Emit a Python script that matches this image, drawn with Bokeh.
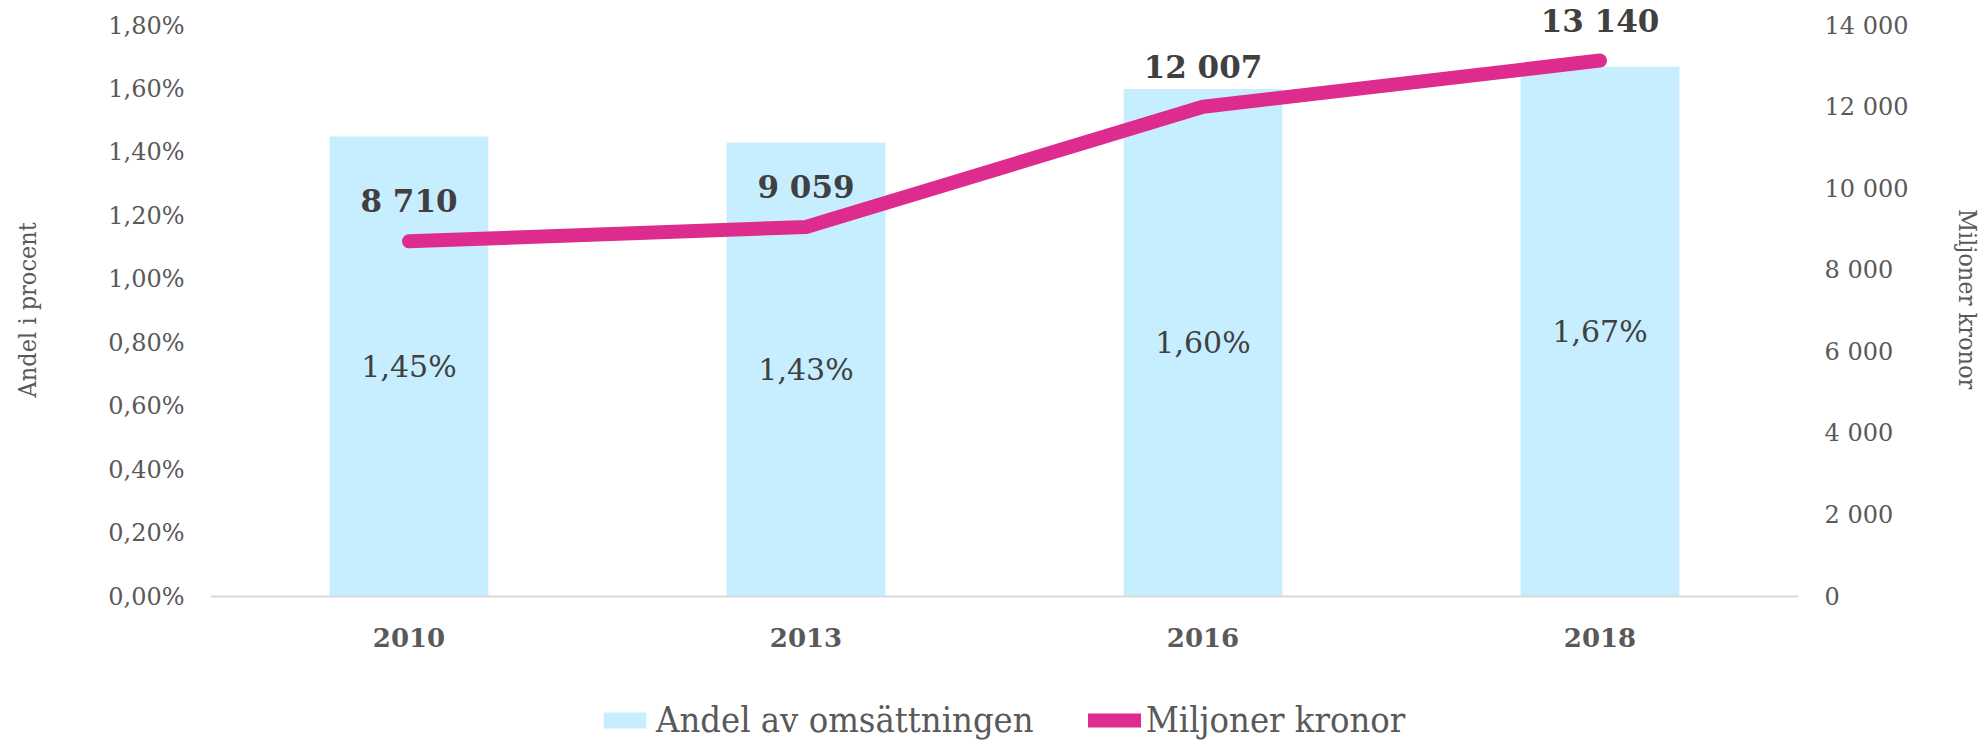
from bokeh.plotting import figure
from bokeh.models import (ColumnDataSource, Range1d, LinearAxis, FactorRange, Span,
                          CustomJSTickFormatter, Legend, LegendItem, FixedTicker)
from bokeh.core.properties import value
from bokeh.embed import file_html
from bokeh.resources import INLINE

years = ["2010", "2013", "2016", "2018"]
share = [1.45, 1.43, 1.60, 1.67]          # Andel av omsättningen (%)
mkr = [8710, 9059, 12007, 13140]          # Miljoner kronor
left_ticks = [0, 0.2, 0.4, 0.6, 0.8, 1.0, 1.2, 1.4, 1.6, 1.8]
right_ticks = [0, 2000, 4000, 6000, 8000, 10000, 12000, 14000]

share_lbl = [f"{v:.2f}".replace(".", ",") + "%" for v in share]
mkr_lbl = [f"{v:,}".replace(",", " ") for v in mkr]

src = ColumnDataSource(dict(year=years, share=share, half=[v / 2 for v in share],
                            zero=[0] * len(years), share_lbl=share_lbl,
                            mkr=mkr, mkr_lbl=mkr_lbl))

SERIF = "DejaVu Serif"
COND = "DejaVu Serif Condensed"
BAR = "#C7EEFE"
PINK = "#DE2C8E"
GREY = "#595959"
DARK = "#404040"
NB = "\u00a0"

# the plotting frame covers the whole height; value axes map 0..max onto y = 596 .. 25
FH = 740
TOP_PX, ZERO_PX = 25, 596
span_px = ZERO_PX - TOP_PX
L_MAX, R_MAX = 1.8, 14000
l_lo = -(FH - ZERO_PX) * L_MAX / span_px
l_hi = L_MAX + TOP_PX * L_MAX / span_px
r_lo = -(FH - ZERO_PX) * R_MAX / span_px
r_hi = R_MAX + TOP_PX * R_MAX / span_px

p = figure(x_range=FactorRange(*years), y_range=Range1d(l_lo, l_hi),
           frame_width=1588, frame_height=FH,
           min_border_left=210, min_border_right=170, min_border_top=0,
           min_border_bottom=0, output_backend="svg", toolbar_location=None,
           outline_line_color=None)
p.extra_y_ranges = {"mkr": Range1d(r_lo, r_hi)}
p.xaxis.visible = False
p.xgrid.grid_line_color = None
p.ygrid.grid_line_color = None

p.add_layout(Span(location=0, dimension="width", line_color="#D9D9D9", line_width=2))

bars = p.vbar(x="year", top="share", bottom=0, width=0.4, source=src,
              fill_color=BAR, line_color=None)
line = p.line(x="year", y="mkr", source=src, y_range_name="mkr", line_color=PINK,
              line_width=14, line_cap="round", line_join="round")

# category labels under the baseline
p.text(x="year", y="zero", text="year", source=src, text_align="center",
       text_baseline="middle", y_offset=41, text_font=value(SERIF),
       text_font_size="26px", text_font_style="bold", text_color=GREY)
# bar value labels
p.text(x="year", y="half", text="share_lbl", source=src, text_align="center",
       text_baseline="middle", text_font=value(SERIF), text_font_size="30px",
       text_color=DARK)
# line value labels
p.text(x="year", y="mkr", text="mkr_lbl", source=src, y_range_name="mkr",
       text_align="center", text_baseline="middle", y_offset=-40,
       text_font=value(SERIF), text_font_size="31px", text_font_style="bold",
       text_color=DARK)

# left axis
ya = p.yaxis[0]
ya.ticker = FixedTicker(ticks=left_ticks)
ya.formatter = CustomJSTickFormatter(code="return tick.toFixed(2).replace('.', ',') + '%';")
ya.axis_line_color = None
ya.major_tick_line_color = None
ya.minor_tick_line_color = None
ya.major_label_standoff = 20
ya.major_label_text_font = SERIF
ya.major_label_text_font_size = "24px"
ya.major_label_text_color = GREY
ya.axis_label = NB * 17 + "Andel i procent"
ya.axis_label_text_font = COND
ya.axis_label_text_font_style = "normal"
ya.axis_label_text_font_size = "25px"
ya.axis_label_text_color = GREY
ya.axis_label_standoff = 63

# right axis
ra = LinearAxis(y_range_name="mkr", ticker=FixedTicker(ticks=right_ticks),
                formatter=CustomJSTickFormatter(code="return tick.toLocaleString('en-US').replace(/,/g, ' ');"))
ra.axis_line_color = None
ra.major_tick_line_color = None
ra.minor_tick_line_color = None
ra.major_label_standoff = 20
ra.major_label_text_font = SERIF
ra.major_label_text_font_size = "24px"
ra.major_label_text_color = GREY
ra.axis_label = "Miljoner kronor" + NB * 20
ra.axis_label_text_font = COND
ra.axis_label_text_font_style = "normal"
ra.axis_label_text_font_size = "25px"
ra.axis_label_text_color = GREY
ra.axis_label_standoff = 42
p.add_layout(ra, "right")

legend = Legend(items=[LegendItem(label="Andel av omsättningen", renderers=[bars]),
                       LegendItem(label="Miljoner kronor", renderers=[line])],
                orientation="horizontal", location=(388, 0),
                label_text_font=COND, label_text_font_size="36px",
                label_text_color=GREY, glyph_width=53, glyph_height=20,
                label_standoff=5, spacing=54, padding=0, margin=0,
                border_line_color=None, background_fill_alpha=0)
p.add_layout(legend, "center")

open("out.html", "w").write(file_html(p, INLINE))
